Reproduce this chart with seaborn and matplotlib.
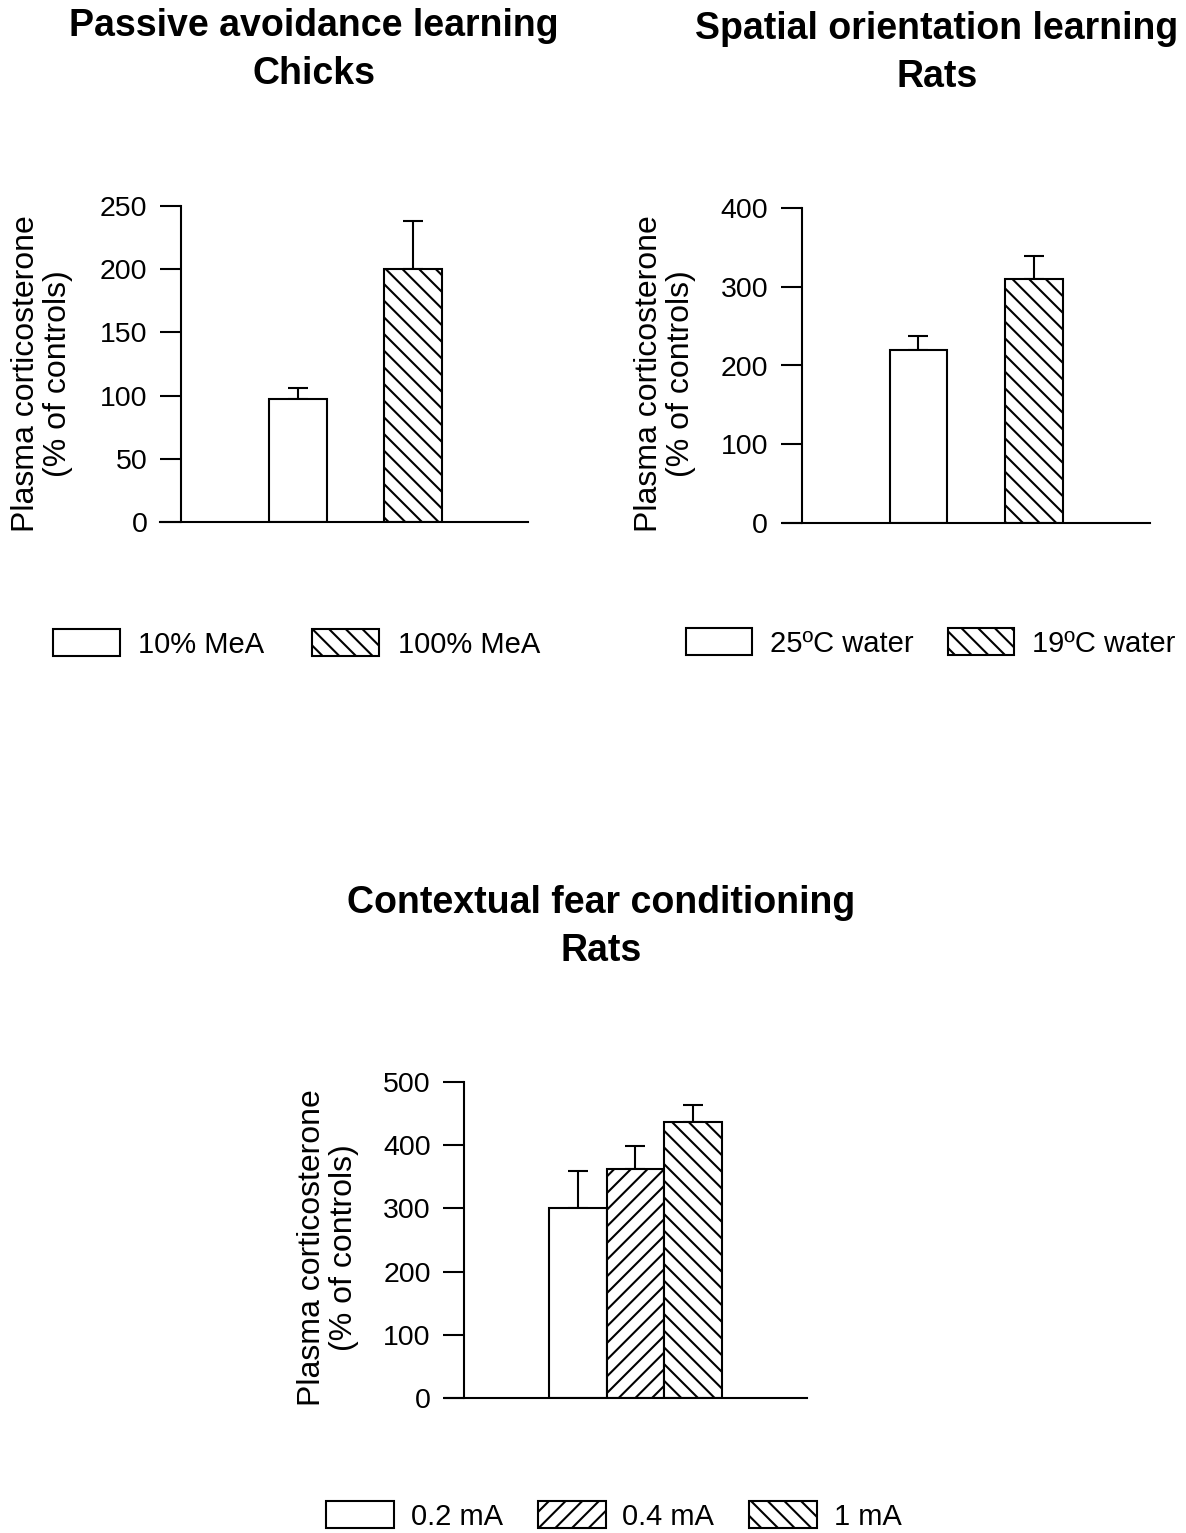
import matplotlib
matplotlib.use('Agg')
import matplotlib.pyplot as plt
from matplotlib.patches import Patch
import seaborn as sns
import numpy as np

sns.set_style('ticks')
plt.rcParams['font.family'] = ['Liberation Sans', 'DejaVu Sans']
plt.rcParams['hatch.linewidth'] = 1.5
plt.rcParams['text.color'] = 'black'
plt.rcParams['axes.labelcolor'] = 'black'
plt.rcParams['ytick.color'] = 'black'

# data (mean and upper error, % of controls)
chick_groups = ['10% MeA', '100% MeA']
chick_mean = [97, 200]
chick_err = [9, 38]

water_groups = ['25ºC water', '19ºC water']
water_mean = [220, 310]
water_err = [18, 29]

shock_groups = ['0.2 mA', '0.4 mA', '1 mA']
shock_mean = [300, 363, 437]
shock_err = [59, 35, 27]

ylabel = 'Plasma corticosterone\n(% of controls)'
W, H = 1186, 1533

fig = plt.figure(figsize=(W / 100, H / 100), dpi=100)


def fx(px):
    return px / W


def fy(py):
    return 1 - py / H


def draw_panel(rect, groups, means, errs, hatches, width, xlim, spine_x, ymax, ystep):
    ax = fig.add_axes(rect)
    sns.barplot(x=groups, y=means, order=groups, color='white', edgecolor='black',
                linewidth=1.5, width=width, errorbar=None, ax=ax, zorder=2)
    for bar, h in zip(ax.patches, hatches):
        bar.set_facecolor('white')
        bar.set_hatch(h)
    pos = np.arange(len(groups))
    ax.errorbar(pos, means, yerr=[np.zeros(len(errs)), errs], fmt='none',
                ecolor='black', elinewidth=1.5, capsize=7, capthick=1.5, zorder=1)
    ax.set_xlim(*xlim)
    ax.set_ylim(0, ymax)
    ax.set_yticks(np.arange(0, ymax + 1, ystep))
    ax.set_xticks([])
    ax.set_xlabel('')
    ax.set_ylabel('')
    sns.despine(ax=ax)
    ax.spines['left'].set_position(('data', spine_x))
    for s in ['left', 'bottom']:
        ax.spines[s].set_linewidth(1.5)
        ax.spines[s].set_color('black')
    ax.tick_params(axis='y', length=15, width=1.5, pad=9, labelsize=20.5, colors='black')
    return ax


def add_legend(groups, hatches, x, y, hlen, tpad, colsp):
    handles = [Patch(facecolor='white', edgecolor='black', hatch=h, linewidth=1.5)
               for h in hatches]
    fig.legend(handles, groups, loc='center left', bbox_to_anchor=(x, y),
               ncol=len(groups), frameon=False, fontsize=21, handlelength=hlen,
               handleheight=1.0, handletextpad=tpad, columnspacing=colsp,
               borderpad=0, borderaxespad=0)


# Panel 1: chicks
draw_panel([fx(160), fy(522), fx(368), 316 / H], chick_groups, chick_mean, chick_err,
           ['', '\\\\'], 0.5, (-1.2, 2.0), -1.02, 250, 50)
fig.text(fx(314), fy(50), 'Passive avoidance learning\nChicks', ha='center', va='center',
         fontsize=27, fontweight='bold', linespacing=1.4)
fig.text(fx(42), fy(374), ylabel, rotation=90, ha='center', va='center',
         multialignment='center', fontsize=23, linespacing=1.1)
add_legend(chick_groups, ['', '\\\\'], fx(53), fy(644), 2.3, 0.62, 1.65)

# Panel 2: rats, water maze
draw_panel([fx(783), fy(523), fx(367), 315 / H], water_groups, water_mean, water_err,
           ['', '\\\\'], 0.5, (-1.17, 2.0), -1.01, 400, 100)
fig.text(fx(937), fy(53), 'Spatial orientation learning\nRats', ha='center', va='center',
         fontsize=27, fontweight='bold', linespacing=1.4)
fig.text(fx(665), fy(374), ylabel, rotation=90, ha='center', va='center',
         multialignment='center', fontsize=23, linespacing=1.1)
add_legend(water_groups, ['', '\\\\'], fx(686), fy(643), 2.26, 0.62, 1.17)

# Panel 3: contextual fear conditioning
draw_panel([fx(445), fy(1398), fx(362), 316 / H], shock_groups, shock_mean, shock_err,
           ['', '//', '\\\\'], 1.0, (-2.31, 3.98), -1.98, 500, 100)
fig.text(fx(601), fy(927), 'Contextual fear conditioning\nRats', ha='center', va='center',
         fontsize=27, fontweight='bold', linespacing=1.4)
fig.text(fx(328), fy(1248), ylabel, rotation=90, ha='center', va='center',
         multialignment='center', fontsize=23, linespacing=1.1)
add_legend(shock_groups, ['', '//', '\\\\'], fx(326), fy(1516), 2.33, 0.58, 1.19)

fig.savefig('out.png', dpi=100, facecolor='white')
